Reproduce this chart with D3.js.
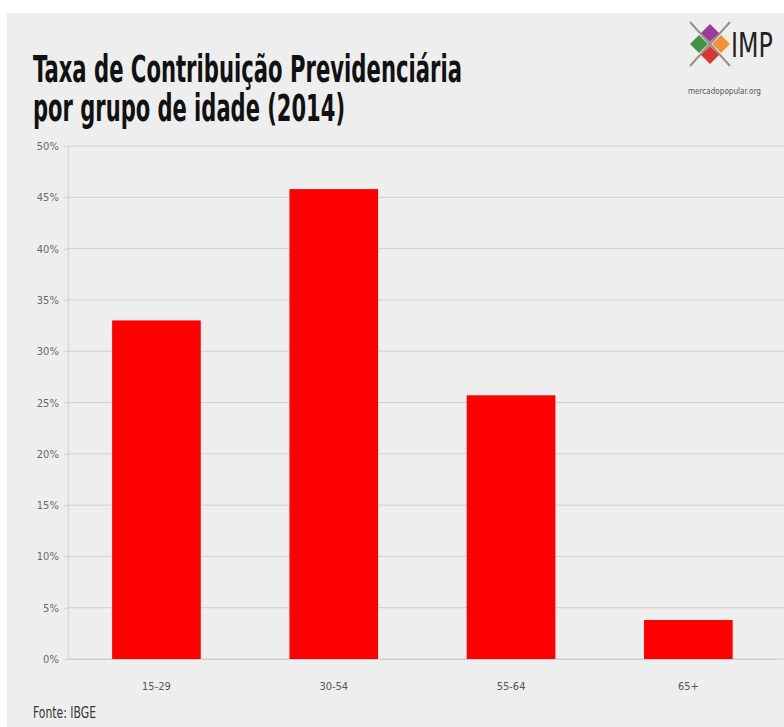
<!DOCTYPE html>
<html>
<head>
<meta charset="utf-8">
<script src="https://cdn.jsdelivr.net/npm/d3@7"></script>
<style>
  html, body { margin: 0; padding: 0; background: #ffffff; }
  svg { display: block; }
</style>
</head>
<body>
<svg id="chart" width="784" height="727"></svg>
<script>
// Taxa de contribuição previdenciária por grupo de idade, 2014 (IBGE)
const categories = ["15-29", "30-54", "55-64", "65+"];
const values = [33.0, 45.8, 25.7, 3.8];
const tickValues = [0, 5, 10, 15, 20, 25, 30, 35, 40, 45, 50];
const titleLines = ["Taxa de Contribuição Previdenciária", "por grupo de idade (2014)"];
const sourceText = "Fonte: IBGE";

const W = 784, H = 727;
const plot = { left: 67.8, right: 777, top: 146, bottom: 659 };

const svg = d3.select("#chart");
const condensed = "'Liberation Sans Narrow', 'DejaVu Sans Condensed', 'Roboto', sans-serif";

// panel background
svg.append("rect").attr("x", 7).attr("y", 13).attr("width", W - 7).attr("height", H - 13)
  .attr("fill", "#eeeeee");

const x = d3.scaleBand().domain(categories).range([plot.left, plot.right])
  .paddingInner(0.5).paddingOuter(0.25);
const y = d3.scaleLinear().domain([0, 50]).range([plot.bottom, plot.top]);

// horizontal grid
svg.append("g").selectAll("line").data(tickValues).join("line")
  .attr("x1", plot.left).attr("x2", W)
  .attr("y1", d => y(d)).attr("y2", d => y(d))
  .attr("stroke", "#cfcfcf").attr("stroke-width", 1);

// y axis
const yAxis = d3.axisLeft(y).tickValues(tickValues).tickFormat(d => d + "%").tickSize(4);
const gy = svg.append("g").attr("transform", `translate(${plot.left},0)`).call(yAxis);
gy.select(".domain").attr("stroke", "#cfcfcf");
gy.selectAll(".tick line").attr("stroke", "#cfcfcf");
gy.selectAll(".tick text").attr("fill", "#6a6a6a")
  .style("font-family", condensed).style("font-size", "11px").attr("x", -9);

// x axis
const xAxis = d3.axisBottom(x).tickSize(0).tickPadding(23);
const gx = svg.append("g").attr("transform", `translate(0,${plot.bottom})`).call(xAxis);
gx.select(".domain").attr("stroke", "#cfcfcf");
gx.selectAll(".tick text").attr("fill", "#555555")
  .style("font-family", condensed).style("font-size", "11px");

// bars
svg.append("g").selectAll("rect").data(values).join("rect")
  .attr("x", (d, i) => x(categories[i]))
  .attr("width", x.bandwidth())
  .attr("y", d => y(d))
  .attr("height", d => y(0) - y(d))
  .attr("fill", "#ff0000");

// title, narrowed to a condensed width
const titleWidths = [429, 312];
svg.append("g").selectAll("text").data(titleLines).join("text")
  .attr("x", 33).attr("y", (d, i) => 82 + i * 39)
  .attr("textLength", (d, i) => titleWidths[i])
  .attr("lengthAdjust", "spacingAndGlyphs")
  .attr("fill", "#111111")
  .style("font-family", condensed).style("font-weight", "bold").style("font-size", "37px")
  .text(d => d);

// source
svg.append("text").attr("x", 33).attr("y", 718)
  .attr("textLength", 63).attr("lengthAdjust", "spacingAndGlyphs")
  .attr("fill", "#333333")
  .style("font-family", condensed).style("font-size", "15px")
  .text(sourceText);

// logo mark: diamond cluster with lattice
const logo = svg.append("g").attr("transform", "translate(710,44)");
logo.append("path")
  .attr("d", "M-20,-22L20,22M20,-22L-20,22")
  .attr("stroke", "#9a8f8f").attr("stroke-width", 2).attr("fill", "none");
const diamonds = [
  { dx: 0, dy: -11, c: "#8e2a8a" },
  { dx: -11, dy: 0, c: "#2e8b2e" },
  { dx: 11, dy: 0, c: "#ef8a22" },
  { dx: 0, dy: 11, c: "#d42020" }
];
logo.selectAll("path.d").data(diamonds).join("path")
  .attr("class", "d")
  .attr("d", d => `M${d.dx},${d.dy - 9}L${d.dx + 9},${d.dy}L${d.dx},${d.dy + 9}L${d.dx - 9},${d.dy}Z`)
  .attr("fill", d => d.c).attr("opacity", 0.9);
svg.append("text").attr("transform", "translate(731,57) scale(0.8,1)")
  .attr("fill", "#222222")
  .style("font-family", condensed).style("font-size", "33px")
  .text("IMP");
svg.append("text").attr("transform", "translate(688,94) scale(0.85,1)")
  .attr("fill", "#555555")
  .style("font-family", condensed).style("font-size", "9.5px")
  .text("mercadopopular.org");
</script>
</body>
</html>
